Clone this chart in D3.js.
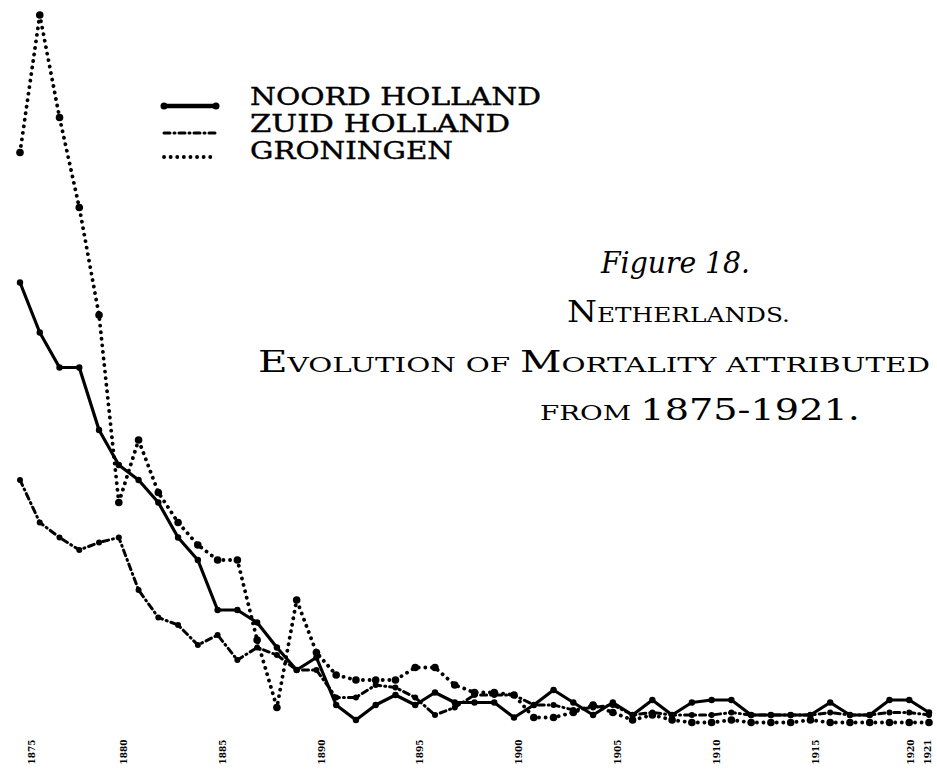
<!DOCTYPE html>
<html><head><meta charset="utf-8">
<script src="https://cdn.jsdelivr.net/npm/d3@7/dist/d3.min.js"></script>
<style>html,body{margin:0;padding:0;background:#fff;} svg{display:block}</style>
</head><body>
<svg id="chart" width="937" height="777"></svg>
<script>
const years = [1875,1876,1877,1878,1879,1880,1881,1882,1883,1884,1885,1886,1887,1888,1889,1890,
  1891,1892,1893,1894,1895,1896,1897,1898,1899,1900,1901,1902,1903,1904,1905,1906,1907,1908,1909,1910,
  1911,1912,1913,1914,1915,1916,1917,1918,1919,1920,1921];
const noordHolland = [18.3,16.3,14.9,14.9,12.4,11.0,10.4,9.5,8.1,7.2,5.2,5.2,4.7,3.7,2.8,3.3,
  1.4,0.8,1.4,1.8,1.4,1.9,1.5,1.5,1.5,0.9,1.4,2.0,1.5,1.0,1.5,1.0,1.6,1.0,1.5,1.6,
  1.6,1.0,1.0,1.0,1.0,1.5,1.0,1.0,1.6,1.6,1.1];
const zuidHolland = [10.4,8.7,8.1,7.6,7.9,8.1,6.0,4.9,4.6,3.8,4.2,3.2,3.7,3.4,2.8,2.8,
  1.7,1.7,2.2,2.1,1.7,1.0,1.3,1.8,1.8,1.8,1.4,1.4,1.2,1.3,1.4,1.0,1.1,1.0,1.0,1.0,
  1.1,1.0,1.0,1.0,1.0,1.1,1.0,1.0,1.1,1.1,1.0];
const groningen = [23.5,29.0,24.9,21.3,17.0,9.5,12.0,9.9,8.7,7.8,7.2,7.2,4.0,1.3,5.6,3.5,
  2.6,2.4,2.4,2.4,2.9,2.9,2.2,1.9,1.9,1.8,0.9,0.9,1.1,1.4,1.1,0.8,1.0,0.8,0.7,0.7,
  0.8,0.7,0.7,0.7,0.8,0.7,0.7,0.7,0.7,0.7,0.7];
const tickYears = [1875,1880,1885,1890,1895,1900,1905,1910,1915,1920,1921];
const seriesNames = ["NOORD HOLLAND","ZUID HOLLAND","GRONINGEN"];

const svg = d3.select("#chart");
const x = d3.scaleLinear().domain([1875,1921]).range([20,929]);
const y = d3.scaleLinear().domain([0,30]).range([740,-10]);

const styles = {
  "NOORD HOLLAND": {width:3.2, dash:null, cap:"round", r:3.2},
  "ZUID HOLLAND": {width:3, dash:"6 4 1 4", cap:"round", r:3},
  "GRONINGEN": {width:3.8, dash:"0.1 6.5", cap:"round", r:3.8}
};
const series = [
  {name:"GRONINGEN", values:groningen},
  {name:"ZUID HOLLAND", values:zuidHolland},
  {name:"NOORD HOLLAND", values:noordHolland}
];

const line = d3.line().x((d,i)=>x(years[i])).y(d=>y(d));
const g = svg.append("g");
series.forEach(s=>{
  const st = styles[s.name];
  g.append("path").datum(s.values)
    .attr("d", line).attr("fill","none").attr("stroke","#000")
    .attr("stroke-width", st.width).attr("stroke-linecap", st.cap)
    .attr("stroke-linejoin","round")
    .attr("stroke-dasharray", st.dash);
  g.selectAll(null).data(s.values).enter().append("circle")
    .attr("cx",(d,i)=>x(years[i])).attr("cy",d=>y(d)).attr("r",st.r).attr("fill","#000");
});

// x axis (labels only)
const axis = d3.axisBottom(x).tickValues(tickYears).tickFormat(d3.format("d")).tickSize(0);
const ax = svg.append("g").attr("transform","translate(0,752)").call(axis);
ax.select(".domain").remove();
ax.selectAll(".tick").attr("transform", d => `translate(${x(d) + (d===1875 ? 12 : d===1921 ? -1 : d===1920 ? 2 : 5)},0)`);
ax.selectAll("text")
  .attr("font-family","DejaVu Serif").attr("font-size",9).attr("font-weight","bold")
  .attr("fill","#000")
  .attr("transform","rotate(-90)").attr("x",0).attr("y",0).attr("dy","0.35em")
  .style("text-anchor","middle");

// legend
const lg = svg.append("g");
const legY = [106,133,157];
seriesNames.forEach((n,i)=>{
  const st = styles[n];
  lg.append("line").attr("x1",164).attr("x2",216).attr("y1",legY[i]).attr("y2",legY[i])
    .attr("stroke","#000").attr("stroke-width", i===0?4.5:st.width)
    .attr("stroke-linecap","round").attr("stroke-dasharray", st.dash);
  if(i===0){
    lg.append("circle").attr("cx",164).attr("cy",legY[i]).attr("r",3.5);
    lg.append("circle").attr("cx",216).attr("cy",legY[i]).attr("r",3.5);
  }
});
const legText = [{t:"NOORD HOLLAND",y:105,w:291},{t:"ZUID HOLLAND",y:132,w:260},{t:"GRONINGEN",y:159,w:203}];
legText.forEach(d=>{
  lg.append("text").attr("x",250).attr("y",d.y).text(d.t)
    .attr("font-family","DejaVu Serif").attr("font-size",25)
    .attr("stroke","#000").attr("stroke-width",0.4)
    .attr("textLength",d.w).attr("lengthAdjust","spacingAndGlyphs");
});

// title block
const tg = svg.append("g").attr("font-family","DejaVu Serif").attr("fill","#000");
tg.append("text").attr("x",601).attr("y",273).attr("font-size",30).attr("font-style","italic")
  .attr("textLength",149).attr("lengthAdjust","spacingAndGlyphs").text("Figure 18.");
function smallCaps(el, words){
  words.forEach((w,wi)=>{
    if(wi>0) el.append("tspan").attr("font-size",22).text(" ");
    if(w.cap){
      el.append("tspan").attr("font-size",29).text(w.text[0]);
      if(w.text.length>1) el.append("tspan").attr("font-size",21).text(w.text.slice(1).toUpperCase());
    } else if(w.small){
      el.append("tspan").attr("font-size",21).text(w.text.toUpperCase());
    } else {
      el.append("tspan").attr("font-size",29).text(w.text);
    }
  });
}
const t2 = tg.append("text").attr("x",567).attr("y",322).attr("textLength",223).attr("lengthAdjust","spacingAndGlyphs");
smallCaps(t2,[{text:"Netherlands.",cap:true}]);
const t3 = tg.append("text").attr("x",258).attr("y",372).attr("textLength",672).attr("lengthAdjust","spacingAndGlyphs");
smallCaps(t3,[{text:"Evolution",cap:true},{text:"of",small:true},{text:"Mortality",cap:true},{text:"attributed",small:true}]);
const t4 = tg.append("text").attr("x",540).attr("y",420).attr("textLength",320).attr("lengthAdjust","spacingAndGlyphs");
smallCaps(t4,[{text:"from",small:true},{text:"1875-1921."}]);
</script>
</body></html>
